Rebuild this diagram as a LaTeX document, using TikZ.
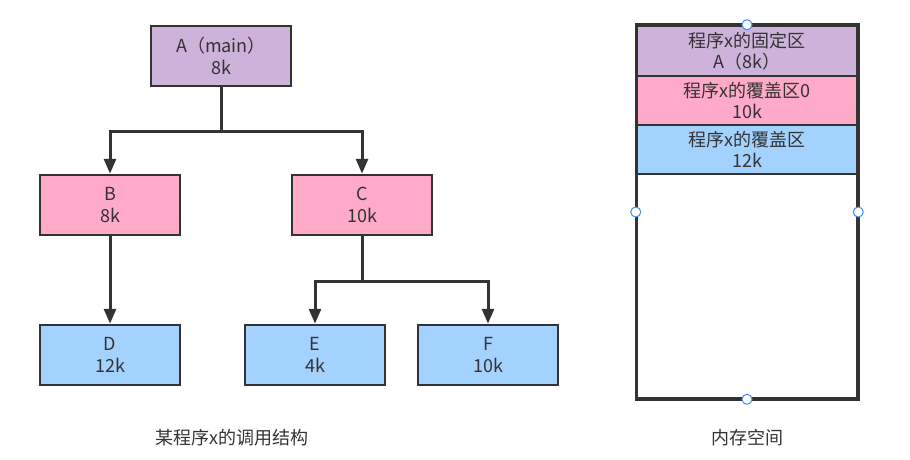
\documentclass[tikz,border=0pt]{standalone}
\usepackage{fontspec}
\setmainfont{Noto Sans CJK SC}
\usetikzlibrary{arrows.meta}
\definecolor{lineC}{HTML}{333333}
\definecolor{purp}{HTML}{CDB3DA}
\definecolor{pinkC}{HTML}{FFAAC9}
\definecolor{blueC}{HTML}{A4D2FF}
\definecolor{handle}{HTML}{3C8CFF}
\tikzset{
  tbox/.style={draw=lineC, line width=2.5pt, minimum width=140pt, minimum height=60pt, inner sep=0pt, align=center, font=\fontsize{18}{22}\selectfont, text=lineC},
  mbox/.style={draw=lineC, line width=2.5pt, minimum width=220pt, inner sep=0pt, align=center, font=\fontsize{18}{21}\selectfont, text=lineC},
  conn/.style={draw=lineC, line width=3pt, -{Triangle[length=15pt,width=12pt]}},
  hdl/.style={circle, draw=handle, fill=white, line width=1pt, minimum size=10pt, inner sep=0pt},
  captxt/.style={font=\fontsize{18}{21}\selectfont, text=lineC}
}
\begin{document}
\begin{tikzpicture}[x=1pt,y=-1pt]
\useasboundingbox (0,0) rectangle (910,460);
\node[tbox, fill=purp] (A) at (221,56) {A（main）\\8k};
\node[tbox, fill=pinkC] (B) at (110,205) {B\\8k};
\node[tbox, fill=pinkC] (C) at (362,205) {C\\10k};
\node[tbox, fill=blueC] (D) at (110,355) {D\\12k};
\node[tbox, fill=blueC] (E) at (315,355) {E\\4k};
\node[tbox, fill=blueC] (F) at (488,355) {F\\10k};
\draw[conn] (A.south) -- ++(0,44) -| (B.north);
\draw[conn] (A.south) -- ++(0,44) -| (C.north);
\draw[conn] (B.south) -- (D.north);
\draw[conn] (C.south) -- ++(0,45) -| (E.north);
\draw[conn] (C.south) -- ++(0,45) -| (F.north);
% memory
\node[draw=lineC, line width=2.5pt, minimum width=220pt, minimum height=372pt, inner sep=0pt] (M) at (747,212) {};
\node[mbox, fill=purp, minimum height=50pt] (M1) at (747,51) {程序x的固定区\\A（8k）};
\node[mbox, fill=pinkC, minimum height=49pt] (M2) at (747,100.5) {程序x的覆盖区0\\10k};
\node[mbox, fill=blueC, minimum height=49pt] (M3) at (747,149.5) {程序x的覆盖区\\12k};
\draw[lineC, line width=2.5pt] (M.north west) rectangle (M.south east);
\node[hdl] (h1) at (M.north) {};
\node[hdl] (h2) at (M.west) {};
\node[hdl] (h3) at (M.east) {};
\node[hdl] (h4) at (M.south) {};
\node[captxt] (c1) at (232,438) {某程序x的调用结构};
\node[captxt] (c2) at (747,438) {内存空间};
\end{tikzpicture}
\end{document}
